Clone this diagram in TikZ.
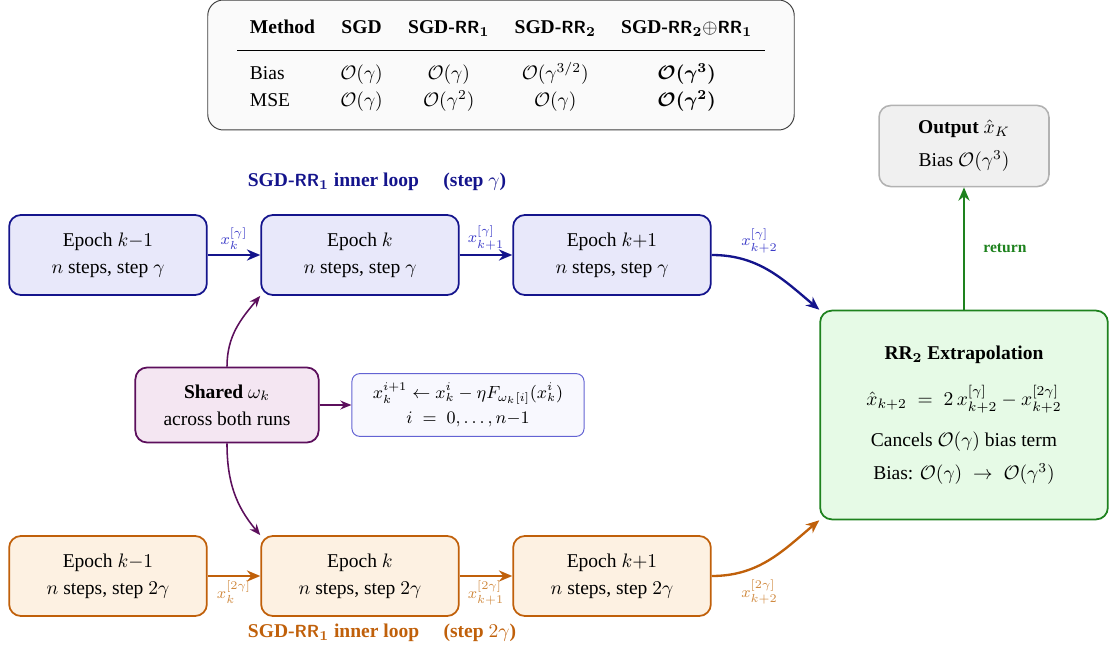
\documentclass[tikz,border=0pt]{standalone}
\usepackage[no-math]{fontspec}
\setmainfont{Liberation Serif}
\usepackage{amsmath}
\usetikzlibrary{arrows.meta}
\definecolor{azul}{HTML}{14148C}
\definecolor{azulclaro}{HTML}{E8E8FA}
\definecolor{azulrotulo}{HTML}{3C3CC8}
\definecolor{laranja}{HTML}{C0600A}
\definecolor{laranjaclaro}{HTML}{FDF1E2}
\definecolor{laranjarotulo}{HTML}{D08A40}
\definecolor{roxo}{HTML}{5C0F5C}
\definecolor{roxoclaro}{HTML}{F4E6F2}
\definecolor{verde}{HTML}{1E821E}
\definecolor{verdeclaro}{HTML}{E6FAE6}
\newcommand{\rr}{{\small\textsf{\bfseries RR}}}
\tikzset{
  epoca/.style={rectangle, rounded corners=6pt, line width=0.9pt, align=center,
    minimum width=3.56cm, minimum height=1.44cm, inner sep=2pt},
  tabela/.style={rectangle, rounded corners=8pt, draw=black!75, fill=black!2, line width=0.5pt,
    minimum width=10.56cm, minimum height=2.34cm, inner sep=0pt},
  compartilhado/.style={rectangle, rounded corners=6pt, draw=roxo, fill=roxoclaro, line width=0.9pt,
    align=center, minimum width=3.3cm, minimum height=1.35cm},
  formula/.style={rectangle, rounded corners=4pt, draw=azulrotulo!80, fill=azulclaro!30, line width=0.5pt,
    align=center, minimum width=4.18cm, minimum height=1.13cm, font=\small},
  extrapolacao/.style={rectangle, rounded corners=6pt, draw=verde, fill=verdeclaro, line width=0.9pt,
    align=center, minimum width=5.18cm, minimum height=3.76cm},
  saida/.style={rectangle, rounded corners=6pt, draw=black!30, fill=black!6, line width=0.8pt,
    align=center, minimum width=3.06cm, minimum height=1.46cm},
  seta/.style={-{Stealth[length=2.4mm, width=2mm]}, line width=1.2pt},
  setafina/.style={-{Stealth[length=2mm, width=1.6mm]}, line width=0.8pt, draw=roxo},
  titulo/.style={font=\bfseries},
  rotulo/.style={font=\footnotesize, inner sep=2pt},
}

\begin{document}
\begin{tikzpicture}[x=0.018cm, y=-0.018cm]
  \useasboundingbox (0,0) rectangle (1109,649);

  % ---------------- tabela ----------------
  \node[tabela] (tab) at (501,65) {%
    \renewcommand{\arraystretch}{1.15}\setlength{\tabcolsep}{6.5pt}%
    \begin{tabular}{lcccc}
      \textbf{Method} & \textbf{SGD} & \textbf{SGD-\rr$_{\mathbf{1}}$} & \textbf{SGD-\rr$_{\mathbf{2}}$}
        & \textbf{SGD-\rr$_{\mathbf{2}}$$\oplus$\rr$_{\mathbf{1}}$} \\[4pt]
      \hline
      \rule{0pt}{15pt}Bias & $\mathcal{O}(\gamma)$ & $\mathcal{O}(\gamma)$ & $\mathcal{O}(\gamma^{3/2})$ & $\boldsymbol{\mathcal{O}(\gamma^3)}$ \\
      MSE & $\mathcal{O}(\gamma)$ & $\mathcal{O}(\gamma^2)$ & $\mathcal{O}(\gamma)$ & $\boldsymbol{\mathcal{O}(\gamma^2)}$
    \end{tabular}};

  % ---------------- epocas ----------------
  \node[titulo, text=azul] (tazul) at (377,182) {SGD-\rr$_{\mathbf{1}}$ inner loop \quad (step $\gamma$)};
  \node[titulo, text=laranja] (tlaranja) at (382,633) {SGD-\rr$_{\mathbf{1}}$ inner loop \quad (step $2\gamma$)};
  \foreach \n/\x/\e in {1/108/k{-}1, 2/360/k, 3/612/k{+}1} {
    \node[epoca, draw=azul, fill=azulclaro] (a\n) at (\x,255) {Epoch $\e$\\[2pt] $n$ steps, step $\gamma$};
    \node[epoca, draw=laranja, fill=laranjaclaro] (l\n) at (\x,576) {Epoch $\e$\\[2pt] $n$ steps, step $2\gamma$};
  }
  \draw[seta, azul] (a1) -- node[rotulo, above, text=azulrotulo] {$x_k^{[\gamma]}$} (a2);
  \draw[seta, azul] (a2) -- node[rotulo, above, text=azulrotulo] {$x_{k+1}^{[\gamma]}$} (a3);
  \draw[seta, laranja] (l1) -- node[rotulo, below, text=laranjarotulo] {$x_k^{[2\gamma]}$} (l2);
  \draw[seta, laranja] (l2) -- node[rotulo, below, text=laranjarotulo] {$x_{k+1}^{[2\gamma]}$} (l3);

  % ---------------- omega compartilhado ----------------
  \node[compartilhado] (omega) at (227,405) {\textbf{Shared} $\omega_k$\\[2pt] across both runs};
  \node[formula] (passo) at (468,405)
    {$x_k^{i+1} \leftarrow x_k^i - \eta F_{\omega_k[i]}(x_k^i)$\\[2pt] $i \;=\; 0,\ldots,n{-}1$};
  \draw[setafina] (omega) -- (passo);
  \draw[setafina] (omega.north) to[out=90, in=-130] (a2.south west);
  \draw[setafina] (omega.south) to[out=-90, in=130] (l2.north west);

  % ---------------- extrapolacao ----------------
  \node[extrapolacao] (rr) at (964,415) {%
    {\bfseries RR$_{\mathbf{2}}$ Extrapolation}\\[10pt]
    $\hat{x}_{k+2} \;=\; 2\,x_{k+2}^{[\gamma]} - x_{k+2}^{[2\gamma]}$\\[9pt]
    Cancels $\mathcal{O}(\gamma)$ bias term\\[5pt]
    Bias: $\mathcal{O}(\gamma) \;\to\; \mathcal{O}(\gamma^3)$};
  \node[saida] (out) at (964,146) {\textbf{Output} $\hat{x}_K$\\[5pt] Bias $\mathcal{O}(\gamma^3)$};
  \draw[seta, azul] (a3.east) to[out=0, in=140]
    node[rotulo, pos=0.4, above=4pt, text=azulrotulo] {$x_{k+2}^{[\gamma]}$} (rr.north west);
  \draw[seta, laranja] (l3.east) to[out=0, in=-140]
    node[rotulo, pos=0.4, below=5pt, text=laranjarotulo] {$x_{k+2}^{[2\gamma]}$} (rr.south west);
  \draw[seta, verde] (rr) -- node[right, xshift=6pt, font=\footnotesize\bfseries, text=verde] {return} (out);
\end{tikzpicture}
\end{document}
